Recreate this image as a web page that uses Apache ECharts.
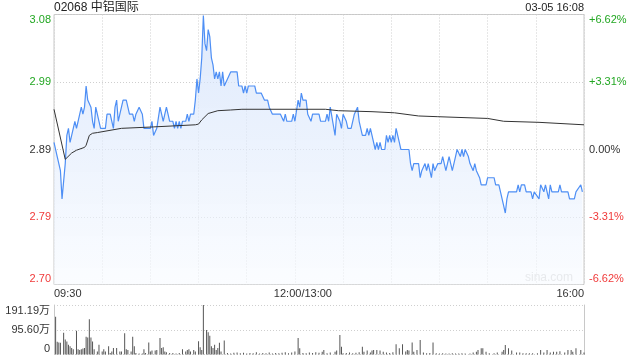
<!DOCTYPE html>
<html><head><meta charset="utf-8">
<script src="https://cdn.jsdelivr.net/npm/echarts@6/dist/echarts.min.js"></script>
<style>html,body{margin:0;padding:0;background:#fff}#c{width:640px;height:360px}</style>
</head><body><div id="c"></div>
<script>
var stockTitle = '02068 中铝国际';
var stampText = '03-05 16:08';
var prevClose = 2.89;
var pctRange = 6.62;
var timeLabels = {0: '09:30', 150: '12:00/13:00', 330: '16:00'};

var priceMinutes = [0,2,4,5,6,7,8,9,10,11,12,13,14,15,16,17,18,19,20,21,22,23,24,25,26,27,28,29,30,32,33,35,36,37,38,39,40,41,42,43,45,46,47,49,50,51,52,53,54,55,56,60,61,62,63,64,66,67,68,69,70,71,72,74,75,76,77,78,79,80,82,83,84,85,87,88,89,90,91,92,93,94,95,96,97,98,99,100,101,102,103,104,105,106,107,108,109,110,114,115,117,118,119,120,121,125,126,129,131,133,134,136,141,143,144,145,148,149,150,152,153,154,155,157,158,160,161,165,166,169,170,171,172,173,175,176,178,179,180,181,182,183,185,186,187,189,190,191,192,194,195,196,197,198,200,201,202,203,204,206,207,208,209,210,211,212,213,214,215,216,221,222,223,224,227,228,229,230,231,232,233,234,235,236,237,238,239,241,242,243,244,245,246,247,248,250,251,253,254,255,256,257,258,259,260,261,262,263,265,266,269,270,274,275,277,278,279,281,282,283,288,289,290,291,293,294,297,298,299,300,302,303,305,306,307,308,309,310,314,315,316,320,321,324,325,328,329];
var priceValues = [2.90,2.88,2.86,2.82,2.82,2.87,2.91,2.92,2.90,2.91,2.92,2.93,2.92,2.93,2.93,2.95,2.94,2.95,2.98,2.96,2.96,2.95,2.93,2.92,2.95,2.95,2.93,2.92,2.92,2.92,2.94,2.94,2.93,2.92,2.95,2.96,2.93,2.94,2.95,2.96,2.96,2.95,2.94,2.94,2.93,2.94,2.94,2.95,2.95,2.94,2.92,2.92,2.93,2.91,2.91,2.92,2.95,2.94,2.93,2.94,2.95,2.94,2.93,2.93,2.92,2.93,2.92,2.93,2.92,2.93,2.93,2.94,2.93,2.94,2.94,2.96,2.99,2.97,2.99,3.02,3.08,3.04,3.03,3.06,3.05,3.02,3.01,2.99,3.00,2.99,3.00,2.98,3.00,2.98,2.98,2.99,2.99,3.00,3.00,2.98,2.98,2.97,2.98,2.97,2.98,2.98,2.97,2.97,2.96,2.96,2.95,2.94,2.94,2.93,2.94,2.93,2.93,2.94,2.93,2.96,2.95,2.97,2.96,2.96,2.94,2.93,2.94,2.94,2.93,2.93,2.94,2.93,2.95,2.95,2.91,2.94,2.93,2.92,2.94,2.94,2.93,2.92,2.92,2.93,2.94,2.95,2.93,2.93,2.91,2.91,2.92,2.91,2.92,2.91,2.89,2.90,2.89,2.90,2.89,2.89,2.91,2.90,2.91,2.90,2.91,2.90,2.92,2.91,2.90,2.89,2.89,2.87,2.86,2.87,2.87,2.85,2.86,2.86,2.87,2.86,2.87,2.86,2.85,2.87,2.86,2.86,2.87,2.87,2.88,2.88,2.86,2.87,2.88,2.87,2.86,2.88,2.89,2.88,2.89,2.88,2.89,2.89,2.88,2.87,2.87,2.86,2.87,2.86,2.85,2.84,2.84,2.85,2.85,2.84,2.84,2.83,2.82,2.80,2.82,2.83,2.83,2.84,2.83,2.84,2.84,2.83,2.83,2.82,2.83,2.83,2.82,2.84,2.83,2.84,2.83,2.82,2.84,2.83,2.83,2.84,2.83,2.83,2.82,2.82,2.83,2.84,2.83];

var avgMinutes = [0,7,11,14,19,20,22,24,27,42,62,88,90,92,96,102,110,117,169,177,198,212,227,239,270,280,302,330];
var avgValues = [2.947,2.876,2.885,2.889,2.893,2.896,2.910,2.913,2.914,2.920,2.922,2.925,2.926,2.932,2.941,2.945,2.946,2.947,2.947,2.945,2.9436,2.942,2.9375,2.9365,2.934,2.930,2.9285,2.925];

var volMinutes = [1,2,3,4,6,7,8,9,10,11,12,14,15,16,17,18,19,20,21,22,23,24,25,27,28,30,31,32,34,35,36,37,39,41,42,44,45,46,48,49,50,51,53,55,56,57,59,60,61,63,64,66,67,68,69,70,72,74,76,78,80,82,83,84,85,87,88,90,91,92,93,95,96,97,98,99,100,101,102,103,104,106,108,110,112,114,116,118,120,122,124,126,128,130,132,134,136,138,140,142,144,146,148,150,152,153,155,157,159,161,163,165,167,168,170,172,175,176,178,179,180,182,184,186,188,190,192,193,195,197,198,199,201,203,205,207,209,211,213,215,217,219,220,221,223,224,226,228,230,232,234,236,238,240,242,244,246,248,250,252,254,256,259,261,263,264,266,267,269,271,274,276,279,280,281,283,285,288,290,292,294,296,298,301,303,305,307,309,311,313,315,318,320,322,323,325,328,330];
var volValues = [146,49,46,45,84,58,50,38,32,25,20,92,20,17,20,23,25,69,66,136,66,50,20,12,38,12,20,12,32,6,12,25,25,12,12,82,20,17,12,69,32,6,4,4,20,6,46,12,15,15,17,64,25,28,12,9,6,6,4,6,20,12,17,20,12,17,12,51,28,17,191,95,86,72,32,25,38,17,25,45,12,54,6,4,7,8,5,7,4,6,5,9,4,6,5,8,4,6,5,7,9,5,8,12,64,24,6,5,8,6,9,7,11,17,5,8,11,15,75,30,5,6,8,5,7,9,30,11,15,8,15,17,17,15,11,8,6,9,40,24,40,12,17,15,46,11,17,56,8,5,6,46,5,4,5,4,4,5,4,4,5,4,4,8,11,17,24,24,11,5,5,8,11,17,37,24,15,8,8,5,5,5,5,5,17,8,17,8,11,11,13,8,17,17,11,24,17,8,5];

var volMax = 191.19;

function pair(xs, ys){ return xs.map(function(x,i){ return [x, ys[i]]; }); }

var FONT = '"Liberation Sans", Arial, "Noto Sans CJK SC", sans-serif';
var GREEN = '#22a722', RED = '#f03a3a', DARK = '#333';
function signColor(v){ if (Math.abs(v) < 1e-6) return DARK; return v > 0 ? GREEN : RED; }

var chart = echarts.init(document.getElementById('c'), null, {renderer: 'canvas'});
var dotted = {show: true, lineStyle: {color: '#cfcfcf', type: [1, 2], width: 1}};

var option = {
  animation: false,
  textStyle: {fontFamily: FONT},
  title: [
    {text: stockTitle, left: 54, top: 2, padding: 0, textStyle: {fontSize: 12, fontWeight: 'normal', color: '#222', fontFamily: FONT}},
    {text: stampText, right: 56, top: 2, padding: 0, textStyle: {fontSize: 11, fontWeight: 'normal', color: '#222', fontFamily: FONT}}
  ],
  graphic: [{type: 'text', right: 67, top: 272, style: {text: 'sina.com', fill: '#cdcdcd', fontSize: 12, fontFamily: FONT}}],
  grid: [
    {left: 54, right: 56, top: 14.5, height: 270, show: true, borderColor: '#c8c8c8', borderWidth: 1, backgroundColor: 'transparent'},
    {left: 54, right: 56, top: 305, height: 49.5}
  ],
  xAxis: [
    {type: 'value', gridIndex: 0, min: 0, max: 330, interval: 30,
     axisLine: {show: false}, axisTick: {show: false}, splitLine: dotted,
     axisLabel: {margin: 4, fontSize: 11, color: DARK, fontFamily: FONT, showMinLabel: true, showMaxLabel: true,
       alignMinLabel: 'left', alignMaxLabel: 'right',
       formatter: function(v){ var t = timeLabels[Math.round(v)]; if (!t) return ''; return Math.round(v) === 150 ? '{m|' + t + '}' : t; },
       rich: {m: {fontSize: 11, color: DARK, fontFamily: FONT, padding: [0, 0, 0, 16]}}}},
    {type: 'value', gridIndex: 1, min: 0, max: 330, interval: 30, show: true,
     axisLine: {show: false}, axisTick: {show: false}, axisLabel: {show: false}, splitLine: {show: false}}
  ],
  yAxis: [
    {type: 'value', gridIndex: 0, min: prevClose * (1 - pctRange / 100), max: prevClose * (1 + pctRange / 100), show: false},
    {type: 'value', gridIndex: 0, position: 'left', min: -pctRange, max: pctRange, interval: pctRange / 2,
     axisLine: {show: false}, axisTick: {show: false}, splitLine: dotted,
     axisLabel: {margin: 3, fontSize: 11, fontFamily: FONT, verticalAlignMinLabel: 'bottom', verticalAlignMaxLabel: 'top',
       color: function(v){ return signColor(Number(v)); },
       formatter: function(v){ return (prevClose * (1 + v / 100)).toFixed(2); }}},
    {type: 'value', gridIndex: 0, position: 'right', min: -pctRange, max: pctRange, interval: pctRange / 2,
     axisLine: {show: false}, axisTick: {show: false}, splitLine: {show: false},
     axisLabel: {margin: 5, fontSize: 11, fontFamily: FONT, verticalAlignMinLabel: 'bottom', verticalAlignMaxLabel: 'top',
       color: function(v){ return signColor(Number(v)); },
       formatter: function(v){ if (Math.abs(v) < 1e-6) return '0.00%'; return (v > 0 ? '+' : '') + v.toFixed(2) + '%'; }}},
    {type: 'value', gridIndex: 1, position: 'left', min: 0, max: volMax, interval: volMax / 2,
     axisLine: {show: true, lineStyle: {color: '#c8c8c8'}}, axisTick: {show: false}, splitLine: dotted,
     axisLabel: {margin: 4, fontSize: 11, color: DARK, fontFamily: FONT, verticalAlignMinLabel: 'bottom', verticalAlignMaxLabel: 'top',
       formatter: function(v){ if (v < 1e-6) return '0'; return (v + 1e-9).toFixed(2) + '万'; }}},
    {type: 'value', gridIndex: 1, position: 'right', min: 0, max: volMax,
     axisLine: {show: true, lineStyle: {color: '#c8c8c8'}}, axisTick: {show: false}, axisLabel: {show: false}, splitLine: {show: false}}
  ],
  series: [
    {type: 'line', xAxisIndex: 0, yAxisIndex: 0, data: pair(priceMinutes, priceValues), symbol: 'none', smooth: false,
     lineStyle: {color: '#4e8ff5', width: 1.2},
     areaStyle: {origin: 'start', color: new echarts.graphic.LinearGradient(0, 0, 0, 1, [{offset: 0, color: 'rgba(205,222,250,0.95)'}, {offset: 1, color: 'rgba(248,251,255,0.9)'}])},
     z: 3},
    {type: 'line', xAxisIndex: 0, yAxisIndex: 0, data: pair(avgMinutes, avgValues), symbol: 'none', smooth: false,
     lineStyle: {color: '#333', width: 1}, z: 4},
    {type: 'bar', xAxisIndex: 1, yAxisIndex: 3, data: pair(volMinutes, volValues), barWidth: 1,
     itemStyle: {color: '#555'}}
  ]
};
chart.setOption(option);
</script>
</body></html>
